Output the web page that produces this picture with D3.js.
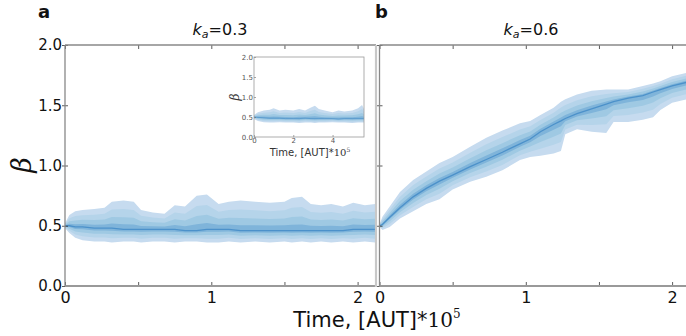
<!DOCTYPE html>
<html>
<head>
<meta charset="utf-8">
<script src="https://cdn.jsdelivr.net/npm/d3@7"></script>
<style>
  body { margin: 0; background: #fff; }
  svg { display: block; font-family: "DejaVu Sans", sans-serif; }
</style>
</head>
<body>
<svg id="chart" width="686" height="336"></svg>
<script>
// panel a, k_a = 0.3 (time in units of 1e5 AUT)
const timeA   = [0, 0.03, 0.07, 0.12, 0.2, 0.27, 0.32, 0.4, 0.47, 0.52, 0.6, 0.68, 0.75, 0.82, 0.9, 0.97, 1.05, 1.12, 1.2, 1.3, 1.4, 1.5, 1.55, 1.62, 1.68, 1.75, 1.82, 1.9, 1.97, 2.05, 2.12]
const upperA  = [0.52, 0.59, 0.62, 0.63, 0.64, 0.65, 0.70, 0.71, 0.70, 0.63, 0.61, 0.60, 0.67, 0.66, 0.75, 0.76, 0.68, 0.70, 0.71, 0.70, 0.69, 0.70, 0.73, 0.74, 0.68, 0.67, 0.68, 0.66, 0.69, 0.67, 0.68]
const lowerA  = [0.48, 0.44, 0.40, 0.38, 0.37, 0.37, 0.36, 0.37, 0.37, 0.36, 0.37, 0.37, 0.36, 0.37, 0.37, 0.36, 0.36, 0.37, 0.36, 0.37, 0.36, 0.37, 0.36, 0.37, 0.36, 0.37, 0.36, 0.37, 0.36, 0.37, 0.36]
const centerA = [0.50, 0.50, 0.49, 0.49, 0.48, 0.48, 0.48, 0.47, 0.47, 0.47, 0.47, 0.47, 0.47, 0.46, 0.46, 0.47, 0.47, 0.47, 0.46, 0.46, 0.46, 0.46, 0.46, 0.46, 0.46, 0.46, 0.46, 0.46, 0.47, 0.47, 0.47]

// panel b, k_a = 0.6
const timeB   = [0, 0.02, 0.07, 0.14, 0.23, 0.32, 0.41, 0.5, 0.62, 0.73, 0.84, 0.96, 1.03, 1.1, 1.19, 1.24, 1.27, 1.35, 1.45, 1.55, 1.6, 1.7, 1.8, 1.87, 1.92, 2.0, 2.1, 2.12]
const upperB  = [0.51, 0.575, 0.66, 0.78, 0.88, 0.95, 1.02, 1.07, 1.156, 1.23, 1.29, 1.35, 1.37, 1.42, 1.48, 1.53, 1.55, 1.59, 1.62, 1.63, 1.63, 1.63, 1.66, 1.68, 1.70, 1.74, 1.77, 1.77]
const lowerB  = [0.49, 0.465, 0.49, 0.56, 0.62, 0.68, 0.72, 0.80, 0.866, 0.907, 0.96, 1.045, 1.07, 1.08, 1.10, 1.12, 1.26, 1.30, 1.28, 1.27, 1.36, 1.36, 1.38, 1.40, 1.46, 1.52, 1.55, 1.55]
const centerB = [0.50, 0.51, 0.57, 0.65, 0.74, 0.81, 0.87, 0.92, 0.99, 1.05, 1.11, 1.18, 1.22, 1.28, 1.34, 1.37, 1.39, 1.43, 1.47, 1.51, 1.53, 1.56, 1.58, 1.61, 1.63, 1.66, 1.69, 1.70]

// inset of panel a, longer run
const timeIn   = [0, 0.2, 0.5, 0.8, 1.0, 1.3, 1.6, 2.0, 2.3, 2.6, 2.9, 3.1, 3.3, 3.6, 4.0, 4.3, 4.6, 5.0, 5.3, 5.5, 5.6]
const upperIn  = [0.55, 0.62, 0.66, 0.68, 0.72, 0.66, 0.68, 0.66, 0.70, 0.66, 0.74, 0.78, 0.70, 0.66, 0.62, 0.66, 0.64, 0.66, 0.72, 0.80, 0.70]
const lowerIn  = [0.45, 0.40, 0.37, 0.36, 0.36, 0.37, 0.36, 0.36, 0.35, 0.36, 0.36, 0.35, 0.36, 0.36, 0.37, 0.36, 0.36, 0.35, 0.36, 0.36, 0.36]
const centerIn = [0.50, 0.49, 0.48, 0.47, 0.47, 0.47, 0.46, 0.46, 0.46, 0.47, 0.46, 0.46, 0.46, 0.46, 0.46, 0.45, 0.46, 0.46, 0.46, 0.46, 0.46]

const yTicks = [0, 0.5, 1, 1.5, 2]
const xMajor = [0, 1, 2]
const xMinor = [0.5, 1.5]
const insetXTicks = [0, 2, 4]
const titles = ['0.3', '0.6']

// density layers, from envelope inwards
const layers = [
  { f: 1.0,  color: '#c6dbef' },
  { f: 0.7,  color: '#b5d4ea' },
  { f: 0.42, color: '#9fc9e3' },
  { f: 0.18, color: '#7fb4da' }
]

const svg = d3.select('#chart')
const fmt = d3.format('.1f')
const spine = '#888'

const zip = (t, lo, hi, c) => t.map((v, i) => ({ t: v, lo: lo[i], hi: hi[i], c: c[i] }))

function drawBand(g, x, y, rows, lineW) {
  layers.forEach(l => {
    g.append('path')
      .datum(rows)
      .attr('fill', l.color)
      .attr('d', d3.area()
        .x(d => x(d.t))
        .y0(d => y(d.c - l.f * (d.c - d.lo)))
        .y1(d => y(d.c + l.f * (d.hi - d.c))))
  })
  g.append('path')
    .datum(rows)
    .attr('fill', 'none')
    .attr('stroke', '#3b86c4')
    .attr('stroke-width', lineW)
    .attr('opacity', 0.75)
    .attr('d', d3.line().x(d => x(d.t)).y(d => y(d.c)))
}

function panel(id, left, right, rows, showYLabels) {
  const top = 45, bottom = 286
  const x = d3.scaleLinear().domain([0, 2.12]).range([left, left + 2.12 * 146.3])
  const y = d3.scaleLinear().domain([0, 2]).range([bottom, top])

  svg.append('clipPath').attr('id', 'clip' + id)
    .append('rect').attr('x', left).attr('y', top).attr('width', right - left).attr('height', bottom - top)

  const g = svg.append('g').attr('clip-path', `url(#clip${id})`)
  drawBand(g, x, y, rows, 1.3)

  // x axes, ticks inward
  const xb = svg.append('g').attr('transform', `translate(0,${bottom})`)
    .call(d3.axisBottom(x).tickValues(xMajor).tickSize(-4).tickPadding(6).tickFormat(d3.format('d')))
  xb.append('g').call(d3.axisBottom(x).tickValues(xMinor).tickSize(-4).tickFormat(''))
  const xt = svg.append('g').attr('transform', `translate(0,${top})`)
    .call(d3.axisTop(x).tickValues(xMajor.concat(xMinor)).tickSize(-4).tickFormat(''))

  // y ticks crossing the spine
  const yl = svg.append('g').attr('transform', `translate(${left},0)`)
    .call(d3.axisLeft(y).tickValues(yTicks).tickSize(3).tickPadding(0).tickFormat(showYLabels ? fmt : ''))
  yl.append('g').call(d3.axisRight(y).tickValues(yTicks).tickSize(3).tickFormat(''))

  ;[xb, xt, yl].forEach(a => {
    a.selectAll('.domain').remove()
    a.selectAll('line').attr('stroke', '#333').attr('stroke-width', 0.8)
    a.selectAll('text').attr('fill', '#111').style('font-size', '16px').style('font-family', '"DejaVu Sans", sans-serif')
  })
  yl.selectAll('text').style('font-size', '15px')

  // spines
  svg.append('line').attr('x1', left).attr('x2', Math.min(right, 686)).attr('y1', top).attr('y2', top).attr('stroke', spine).attr('stroke-width', 1.3)
  svg.append('line').attr('x1', left).attr('x2', Math.min(right, 686)).attr('y1', bottom).attr('y2', bottom).attr('stroke', '#999').attr('stroke-width', 1.8)
  svg.append('line').attr('x1', left).attr('x2', left).attr('y1', top).attr('y2', bottom).attr('stroke', spine).attr('stroke-width', 1.3)
  return { x, y }
}

panel('a', 65, 376, zip(timeA, lowerA, upperA, centerA), true)
panel('b', 379.5, 690, zip(timeB, lowerB, upperB, centerB), false)

// light right edge of panel a
svg.append('line').attr('x1', 376).attr('x2', 376).attr('y1', 45).attr('y2', 287)
  .attr('stroke', '#c8c8c8').attr('stroke-width', 2.2)

// titles k_a = ...
;[220, 531].forEach((cx, i) => {
  const t = svg.append('text').attr('x', cx).attr('y', 35).attr('text-anchor', 'middle')
    .style('font-size', '16px').attr('fill', '#111')
  t.append('tspan').text('k').style('font-style', 'italic')
  t.append('tspan').text('a').style('font-style', 'italic').style('font-size', '11px').attr('dy', 3)
  t.append('tspan').text('=' + titles[i]).attr('dy', -3)
})

// panel letters
svg.append('text').attr('x', 38).attr('y', 18).text('a').style('font-weight', 'bold').style('font-size', '18px').attr('fill', '#111')
svg.append('text').attr('x', 375).attr('y', 18).text('b').style('font-weight', 'bold').style('font-size', '18px').attr('fill', '#111')

// axis labels
const xl = svg.append('text').attr('x', 377).attr('y', 327).attr('text-anchor', 'middle')
  .style('font-size', '21px').attr('fill', '#111')
xl.append('tspan').text('Time, [AUT]*')
xl.append('tspan').text('10').style('font-family', '"DejaVu Serif", serif').style('font-size', '20px')
xl.append('tspan').text('5').style('font-family', '"DejaVu Serif", serif').style('font-size', '12px').attr('dy', -9)

svg.append('text').attr('transform', 'translate(31,165) rotate(-90)').attr('text-anchor', 'middle')
  .text('β').style('font-family', '"DejaVu Serif", serif').style('font-style', 'italic').style('font-size', '27px').attr('fill', '#111')

// inset
{
  const l = 254, r = 364, t = 57, b = 137
  const x = d3.scaleLinear().domain([0, 5.6]).range([l, r])
  const y = d3.scaleLinear().domain([0, 2]).range([b, t])
  svg.append('rect').attr('x', l).attr('y', t).attr('width', r - l).attr('height', b - t).attr('fill', '#fff')
  svg.append('clipPath').attr('id', 'clipIn')
    .append('rect').attr('x', l).attr('y', t).attr('width', r - l).attr('height', b - t)
  const g = svg.append('g').attr('clip-path', 'url(#clipIn)')
  drawBand(g, x, y, zip(timeIn, lowerIn, upperIn, centerIn), 0.7)

  const ax = svg.append('g').attr('transform', `translate(0,${b})`)
    .call(d3.axisBottom(x).tickValues(insetXTicks).tickSize(-2).tickPadding(1).tickFormat(d3.format('d')))
  const ay = svg.append('g').attr('transform', `translate(${l},0)`)
    .call(d3.axisLeft(y).tickValues(yTicks).tickSize(-2).tickPadding(1).tickFormat(fmt))
  ;[ax, ay].forEach(a => {
    a.selectAll('.domain').remove()
    a.selectAll('line').attr('stroke', '#666').attr('stroke-width', 0.6)
    a.selectAll('text').attr('fill', '#555').style('font-size', '7px').style('font-family', '"DejaVu Sans", sans-serif')
  })
  svg.append('rect').attr('x', l).attr('y', t).attr('width', r - l).attr('height', b - t)
    .attr('fill', 'none').attr('stroke', '#999').attr('stroke-width', 0.8)

  const il = svg.append('text').attr('x', (l + r) / 2 + 1).attr('y', 156).attr('text-anchor', 'middle')
    .style('font-size', '10px').attr('fill', '#333')
  il.append('tspan').text('Time, [AUT]*')
  il.append('tspan').text('10').style('font-family', '"DejaVu Serif", serif')
  il.append('tspan').text('5').style('font-family', '"DejaVu Serif", serif').style('font-size', '6px').attr('dy', -4)

  svg.append('text').attr('transform', `translate(${l - 15},${(t + b) / 2}) rotate(-90)`).attr('text-anchor', 'middle')
    .text('β').style('font-family', '"DejaVu Serif", serif').style('font-style', 'italic').style('font-size', '12px').attr('fill', '#333')
}
</script>
</body>
</html>
